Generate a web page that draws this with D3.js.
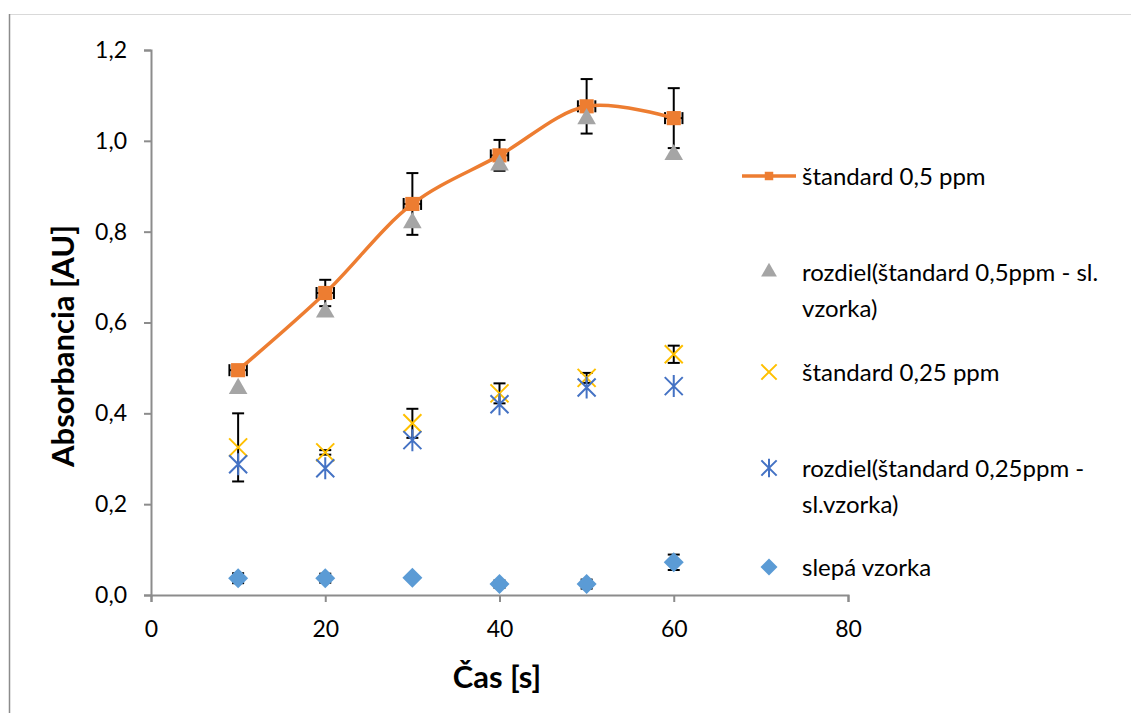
<!DOCTYPE html>
<html>
<head>
<meta charset="utf-8">
<script src="https://cdnjs.cloudflare.com/ajax/libs/d3/7.8.5/d3.min.js"></script>
<style>
    body { margin: 0; background: #fff; }
    text { font-family: Lato, "Open Sans", sans-serif; fill: #000; }
</style>
</head>
<body>
<div id="chart"></div>
<script>
// ----------------------------------------------- //
// Data
var times = [10, 20, 30, 40, 50, 60];

var std05 = [0.495, 0.665, 0.861, 0.968, 1.076, 1.050];
var std05Err = [0.006, 0.029, 0.068, 0.034, 0.060, 0.066];
var std05XErr = [1, 1, 1, 1, 1, 1];

var diff05 = [0.459, 0.627, 0.824, 0.951, 1.053, 0.974];

var std025 = [0.325, 0.314, 0.378, 0.444, 0.478, 0.530];
var std025Err = [0.075, 0.005, 0.032, 0.022, 0.011, 0.019];

var diff025 = [0.288, 0.279, 0.341, 0.420, 0.457, 0.460];

var blank = [0.037, 0.037, 0.038, 0.024, 0.024, 0.072];
var blankErr = [0.011, 0.010, 0.004, 0.008, 0.010, 0.017];

var xTicks = [0, 20, 40, 60, 80];
var yTicks = [0, 0.2, 0.4, 0.6, 0.8, 1.0, 1.2];

var legendLabels = [
    ["štandard 0,5 ppm"],
    ["rozdiel(štandard 0,5ppm - sl.", "vzorka)"],
    ["štandard 0,25 ppm"],
    ["rozdiel(štandard 0,25ppm -", "sl.vzorka)"],
    ["slepá vzorka"]
];

// ----------------------------------------------- //
// SVG container
var svgWidth = 1131;
var svgHeight = 713;

var margin = { top: 50, right: 283, bottom: 118, left: 151 };
var chartWidth = svgWidth - margin.left - margin.right;
var chartHeight = svgHeight - margin.top - margin.bottom;

var svg = d3.select("#chart")
    .append("svg")
    .attr("width", svgWidth)
    .attr("height", svgHeight);

// chart frame (only top and left edges visible)
svg.append("line")
    .attr("x1", 9).attr("x2", svgWidth).attr("y1", 14.5).attr("y2", 14.5)
    .attr("stroke", "#d9d9d9").attr("stroke-width", 1);
svg.append("line")
    .attr("x1", 9.5).attr("x2", 9.5).attr("y1", 14).attr("y2", svgHeight)
    .attr("stroke", "#8c8c8c").attr("stroke-width", 1.5);

var chartGroup = svg.append("g")
    .attr("transform", `translate(${margin.left}, ${margin.top})`);

// ----------------------------------------------- //
// Scales and axes
var xScale = d3.scaleLinear().domain([0, 80]).range([0, chartWidth]);
var yScale = d3.scaleLinear().domain([0, 1.2]).range([chartHeight, 0]);

var bottomAxis = d3.axisBottom(xScale)
    .tickValues(xTicks)
    .tickSize(7)
    .tickPadding(19)
    .tickFormat(d3.format("d"));

var leftAxis = d3.axisLeft(yScale)
    .tickValues(yTicks)
    .tickSize(7)
    .tickPadding(17)
    .tickFormat(d => d3.format(".1f")(d).replace(".", ","));

var xAxis = chartGroup.append("g")
    .attr("transform", `translate(0, ${chartHeight})`)
    .call(bottomAxis);

var yAxis = chartGroup.append("g")
    .call(leftAxis);

[xAxis, yAxis].forEach(function(ax) {
    ax.select(".domain").attr("stroke", "#8c8c8c").attr("stroke-width", 2);
    ax.selectAll(".tick line").attr("stroke", "#8c8c8c").attr("stroke-width", 2);
    ax.selectAll(".tick text")
        .attr("font-size", 23)
        .attr("font-family", "Lato, 'Open Sans', sans-serif")
        .attr("fill", "#000");
});

// axis titles
svg.append("text")
    .attr("x", 497)
    .attr("y", 688)
    .attr("text-anchor", "middle")
    .attr("font-size", 31)
    .attr("font-weight", "bold")
    .text("Čas [s]");

svg.append("text")
    .attr("transform", "translate(74, 346) rotate(-90)")
    .attr("text-anchor", "middle")
    .attr("font-size", 31)
    .attr("font-weight", "bold")
    .text("Absorbancia [AU]");

// ----------------------------------------------- //
// Marker symbols
var triPath = d3.symbol().type(d3.symbolTriangle).size(150)();
var squarePath = d3.symbol().type(d3.symbolSquare).size(200)();
var diamondPath = "M0,-10L10,0L0,10L-10,0Z";
var xPath = "M-9,-9L9,9M-9,9L9,-9";
var starPath = "M-9,-9L9,9M-9,9L9,-9M0,-11L0,11";

function drawMarkers(group, values, path, fill, stroke, tri) {
    group.selectAll("path.m")
        .data(values)
        .enter()
        .append("path")
        .attr("class", "m")
        .attr("transform", (d, i) => `translate(${xScale(times[i])}, ${yScale(d) + (tri ? 2 : 0)})`)
        .attr("d", path)
        .attr("fill", fill)
        .attr("stroke", stroke)
        .attr("stroke-width", stroke === "none" ? 0 : 2);
}

function drawErrY(group, values, errs) {
    var g = group.append("g").attr("stroke", "#000").attr("stroke-width", 2);
    values.forEach(function(v, i) {
        var x = xScale(times[i]);
        var y0 = yScale(v - errs[i]);
        var y1 = yScale(v + errs[i]);
        g.append("line").attr("x1", x).attr("x2", x).attr("y1", y0).attr("y2", y1);
        g.append("line").attr("x1", x - 6).attr("x2", x + 6).attr("y1", y0).attr("y2", y0);
        g.append("line").attr("x1", x - 6).attr("x2", x + 6).attr("y1", y1).attr("y2", y1);
    });
}

function drawErrX(group, values, errs) {
    var g = group.append("g").attr("stroke", "#000").attr("stroke-width", 2);
    values.forEach(function(v, i) {
        var y = yScale(v);
        var x0 = xScale(times[i] - errs[i]);
        var x1 = xScale(times[i] + errs[i]);
        g.append("line").attr("x1", x0).attr("x2", x1).attr("y1", y).attr("y2", y);
        g.append("line").attr("x1", x0).attr("x2", x0).attr("y1", y - 6).attr("y2", y + 6);
        g.append("line").attr("x1", x1).attr("x2", x1).attr("y1", y - 6).attr("y2", y + 6);
    });
}

// ----------------------------------------------- //
// Series
var blankG = chartGroup.append("g");
drawErrY(blankG, blank, blankErr);
drawMarkers(blankG, blank, diamondPath, "#5b9bd5", "none");

var std025G = chartGroup.append("g");
drawErrY(std025G, std025, std025Err);
drawMarkers(std025G, std025, xPath, "none", "#ffc000");

var diff025G = chartGroup.append("g");
drawMarkers(diff025G, diff025, starPath, "none", "#4472c4");

var std05G = chartGroup.append("g");
drawErrY(std05G, std05, std05Err);
drawErrX(std05G, std05, std05XErr);

var line = d3.line()
    .x((d, i) => xScale(times[i]))
    .y(d => yScale(d))
    .curve(d3.curveCatmullRom.alpha(0.5));

std05G.append("path")
    .datum(std05)
    .attr("d", line)
    .attr("fill", "none")
    .attr("stroke", "#ed7d31")
    .attr("stroke-width", 3.5);

var diff05G = chartGroup.append("g");
drawMarkers(diff05G, diff05, triPath, "#a5a5a5", "none", true);
drawMarkers(std05G, std05, squarePath, "#ed7d31", "none");

// ----------------------------------------------- //
// Legend
var legendY = [176, 272, 372, 468, 567];
var legendMarks = [
    { d: squarePath, fill: "#ed7d31", stroke: "none" },
    { d: triPath, fill: "#a5a5a5", stroke: "none" },
    { d: xPath, fill: "none", stroke: "#ffc000" },
    { d: starPath, fill: "none", stroke: "#4472c4" },
    { d: diamondPath, fill: "#5b9bd5", stroke: "none" }
];

var legend = svg.append("g");
legend.append("line")
    .attr("x1", 742).attr("x2", 796)
    .attr("y1", legendY[0]).attr("y2", legendY[0])
    .attr("stroke", "#ed7d31").attr("stroke-width", 3.5);

legendLabels.forEach(function(lines, i) {
    var m = legendMarks[i];
    var s = i === 0 ? 0.6 : 0.85;
    legend.append("path")
        .attr("transform", `translate(769, ${legendY[i]}) scale(${s})`)
        .attr("d", m.d)
        .attr("fill", m.fill)
        .attr("stroke", m.stroke)
        .attr("stroke-width", m.stroke === "none" ? 0 : 2 / s);
    lines.forEach(function(t, j) {
        legend.append("text")
            .attr("x", 802)
            .attr("y", legendY[i] + 9 + j * 36)
            .attr("font-size", 24)
            .text(t);
    });
});
</script>
</body>
</html>
